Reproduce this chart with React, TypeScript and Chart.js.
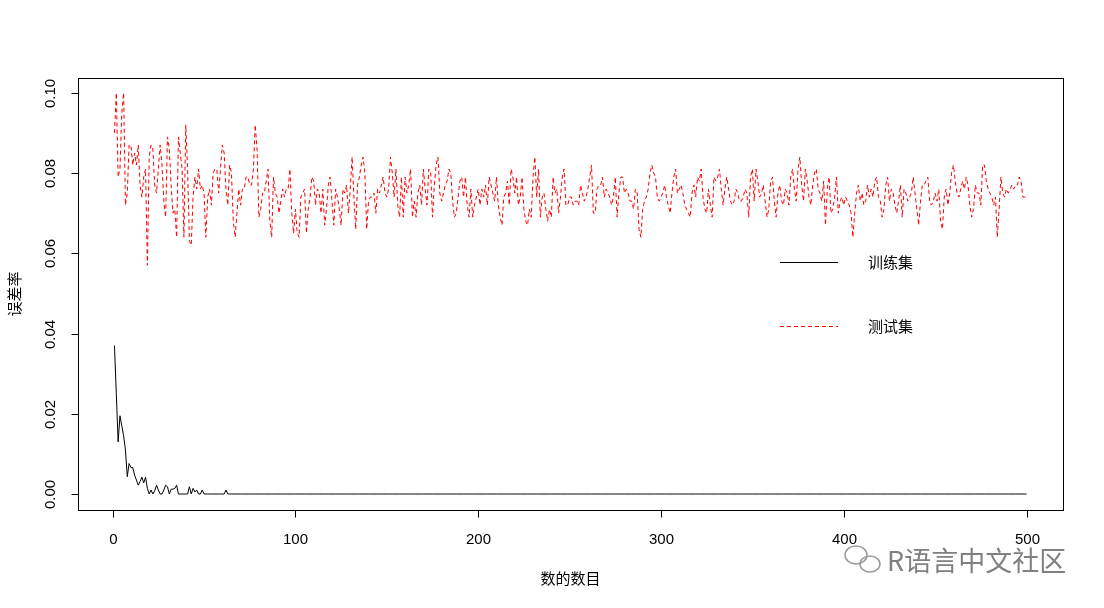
import React, { useEffect, useRef } from "react";
import { Chart, registerables } from "chart.js";
Chart.register(...registerables);

const treeTicks = [0, 100, 200, 300, 400, 500];
const errorTicks = [0, 0.02, 0.04, 0.06, 0.08, 0.1];
const errorTickLabels = ["0.00", "0.02", "0.04", "0.06", "0.08", "0.10"];
const seriesNames = ["训练集", "测试集"];
const xTitle = "数的数目";
const yTitle = "误差率";
const watermark = "R语言中文社区";

const trainError = [
  0.037, 0.025, 0.013, 0.0195, 0.017, 0.0145, 0.011, 0.0043, 0.0076, 0.0066,
  0.0066, 0.0047, 0.0035, 0.0022, 0.0031, 0.0042, 0.0028, 0.0042, 0.0014, 0,
  0.001, 0, 0.0008, 0.0022, 0.001, 0, 0, 0.001, 0.0022, 0.0018,
  0, 0.0012, 0.0012, 0.0014, 0.0022, 0, 0, 0, 0, 0,
  0, 0.0018, 0, 0.0014, 0.0005, 0.001, 0, 0, 0.001, 0,
  0, 0, 0, 0, 0, 0, 0, 0, 0, 0, 0, 0.001, 0, 0, 0, 0, 0, 0, 0, 0,
  0, 0, 0, 0, 0, 0, 0, 0, 0, 0, 0, 0, 0, 0, 0, 0, 0, 0, 0, 0, 0, 0, 0, 0, 0, 0, 0, 0, 0, 0,
  0, 0, 0, 0, 0, 0, 0, 0, 0, 0, 0, 0, 0, 0, 0, 0, 0, 0, 0, 0, 0, 0, 0, 0, 0, 0, 0, 0, 0, 0,
  0, 0, 0, 0, 0, 0, 0, 0, 0, 0, 0, 0, 0, 0, 0, 0, 0, 0, 0, 0, 0, 0, 0, 0, 0, 0, 0, 0, 0, 0,
  0, 0, 0, 0, 0, 0, 0, 0, 0, 0, 0, 0, 0, 0, 0, 0, 0, 0, 0, 0, 0, 0, 0, 0, 0, 0, 0, 0, 0, 0,
  0, 0, 0, 0, 0, 0, 0, 0, 0, 0, 0, 0, 0, 0, 0, 0, 0, 0, 0, 0, 0, 0, 0, 0, 0, 0, 0, 0, 0, 0,
  0, 0, 0, 0, 0, 0, 0, 0, 0, 0, 0, 0, 0, 0, 0, 0, 0, 0, 0, 0, 0, 0, 0, 0, 0, 0, 0, 0, 0, 0,
  0, 0, 0, 0, 0, 0, 0, 0, 0, 0, 0, 0, 0, 0, 0, 0, 0, 0, 0, 0, 0, 0, 0, 0, 0, 0, 0, 0, 0, 0,
  0, 0, 0, 0, 0, 0, 0, 0, 0, 0, 0, 0, 0, 0, 0, 0, 0, 0, 0, 0, 0, 0, 0, 0, 0, 0, 0, 0, 0, 0,
  0, 0, 0, 0, 0, 0, 0, 0, 0, 0, 0, 0, 0, 0, 0, 0, 0, 0, 0, 0, 0, 0, 0, 0, 0, 0, 0, 0, 0, 0,
  0, 0, 0, 0, 0, 0, 0, 0, 0, 0, 0, 0, 0, 0, 0, 0, 0, 0, 0, 0, 0, 0, 0, 0, 0, 0, 0, 0, 0, 0,
  0, 0, 0, 0, 0, 0, 0, 0, 0, 0, 0, 0, 0, 0, 0, 0, 0, 0, 0, 0, 0, 0, 0, 0, 0, 0, 0, 0, 0, 0,
  0, 0, 0, 0, 0, 0, 0, 0, 0, 0, 0, 0, 0, 0, 0, 0, 0, 0, 0, 0, 0, 0, 0, 0, 0, 0, 0, 0, 0, 0,
  0, 0, 0, 0, 0, 0, 0, 0, 0, 0, 0, 0, 0, 0, 0, 0, 0, 0, 0, 0, 0, 0, 0, 0, 0, 0, 0, 0, 0, 0,
  0, 0, 0, 0, 0, 0, 0, 0, 0, 0, 0, 0, 0, 0, 0, 0, 0, 0, 0, 0, 0, 0, 0, 0, 0, 0, 0, 0, 0, 0,
  0, 0, 0, 0, 0, 0, 0, 0, 0, 0,
];

const testError = [
  0.090, 0.100, 0.079, 0.081, 0.095, 0.100, 0.072, 0.075, 0.087, 0.087, 0.082, 0.085, 0.082, 0.087, 0.077, 0.074, 0.079, 0.081, 0.057, 0.084, 0.087, 0.086, 0.077, 0.075, 0.081,
  0.087, 0.082, 0.073, 0.069, 0.089, 0.086, 0.077, 0.070, 0.071, 0.064, 0.089, 0.085, 0.081, 0.064, 0.092, 0.081, 0.063, 0.062, 0.074, 0.079, 0.076, 0.081, 0.076, 0.077, 0.075,
  0.064, 0.074, 0.076, 0.072, 0.080, 0.081, 0.081, 0.075, 0.081, 0.087, 0.085, 0.076, 0.072, 0.082, 0.080, 0.068, 0.064, 0.070, 0.076, 0.072, 0.076, 0.076, 0.079, 0.079, 0.077,
  0.077, 0.081, 0.092, 0.086, 0.069, 0.071, 0.075, 0.075, 0.078, 0.081, 0.068, 0.064, 0.079, 0.075, 0.074, 0.070, 0.073, 0.076, 0.074, 0.076, 0.076, 0.081, 0.070, 0.065, 0.071,
  0.065, 0.064, 0.074, 0.075, 0.076, 0.065, 0.071, 0.074, 0.079, 0.078, 0.072, 0.076, 0.075, 0.070, 0.076, 0.067, 0.071, 0.077, 0.079, 0.073, 0.067, 0.076, 0.074, 0.071, 0.067,
  0.076, 0.075, 0.077, 0.070, 0.076, 0.084, 0.074, 0.066, 0.077, 0.079, 0.082, 0.084, 0.080, 0.066, 0.073, 0.074, 0.074, 0.075, 0.070, 0.076, 0.075, 0.077, 0.079, 0.075, 0.074,
  0.076, 0.084, 0.080, 0.074, 0.081, 0.072, 0.069, 0.079, 0.069, 0.079, 0.075, 0.077, 0.081, 0.069, 0.073, 0.069, 0.075, 0.077, 0.072, 0.081, 0.076, 0.072, 0.081, 0.080, 0.069,
  0.077, 0.082, 0.084, 0.075, 0.073, 0.075, 0.077, 0.078, 0.081, 0.080, 0.073, 0.069, 0.070, 0.074, 0.078, 0.079, 0.074, 0.079, 0.072, 0.069, 0.076, 0.069, 0.072, 0.074, 0.076,
  0.072, 0.076, 0.074, 0.077, 0.072, 0.079, 0.077, 0.075, 0.073, 0.079, 0.072, 0.069, 0.067, 0.074, 0.075, 0.078, 0.072, 0.081, 0.079, 0.075, 0.079, 0.072, 0.074, 0.079, 0.071,
  0.068, 0.067, 0.071, 0.069, 0.079, 0.084, 0.074, 0.081, 0.069, 0.074, 0.075, 0.071, 0.068, 0.071, 0.069, 0.079, 0.075, 0.076, 0.070, 0.074, 0.079, 0.081, 0.072, 0.072, 0.074,
  0.074, 0.072, 0.073, 0.073, 0.072, 0.077, 0.075, 0.073, 0.074, 0.076, 0.079, 0.082, 0.070, 0.070, 0.076, 0.077, 0.077, 0.079, 0.074, 0.076, 0.075, 0.074, 0.072, 0.074, 0.079,
  0.069, 0.075, 0.079, 0.079, 0.075, 0.076, 0.075, 0.073, 0.073, 0.071, 0.076, 0.075, 0.066, 0.064, 0.071, 0.073, 0.074, 0.076, 0.080, 0.082, 0.080, 0.079, 0.074, 0.073, 0.074,
  0.075, 0.077, 0.074, 0.072, 0.070, 0.075, 0.079, 0.081, 0.075, 0.076, 0.077, 0.075, 0.072, 0.071, 0.070, 0.069, 0.075, 0.077, 0.074, 0.079, 0.078, 0.081, 0.074, 0.071, 0.070,
  0.076, 0.072, 0.069, 0.079, 0.078, 0.079, 0.081, 0.076, 0.072, 0.076, 0.079, 0.076, 0.073, 0.072, 0.073, 0.076, 0.075, 0.073, 0.073, 0.074, 0.076, 0.075, 0.069, 0.079, 0.081,
  0.073, 0.081, 0.078, 0.074, 0.075, 0.077, 0.073, 0.069, 0.071, 0.078, 0.079, 0.073, 0.069, 0.075, 0.077, 0.073, 0.072, 0.076, 0.075, 0.072, 0.079, 0.081, 0.076, 0.073, 0.081,
  0.084, 0.077, 0.073, 0.081, 0.078, 0.074, 0.072, 0.077, 0.080, 0.081, 0.076, 0.075, 0.073, 0.078, 0.067, 0.076, 0.079, 0.070, 0.071, 0.074, 0.079, 0.070, 0.073, 0.074, 0.072,
  0.074, 0.073, 0.072, 0.070, 0.064, 0.070, 0.075, 0.077, 0.073, 0.075, 0.072, 0.073, 0.077, 0.074, 0.076, 0.074, 0.078, 0.079, 0.074, 0.073, 0.069, 0.071, 0.077, 0.079, 0.073,
  0.076, 0.075, 0.072, 0.070, 0.073, 0.077, 0.069, 0.076, 0.075, 0.073, 0.074, 0.075, 0.079, 0.075, 0.071, 0.067, 0.073, 0.077, 0.077, 0.078, 0.079, 0.073, 0.072, 0.073, 0.075,
  0.073, 0.076, 0.068, 0.066, 0.074, 0.076, 0.072, 0.075, 0.080, 0.082, 0.078, 0.075, 0.074, 0.076, 0.078, 0.076, 0.079, 0.077, 0.072, 0.069, 0.071, 0.077, 0.075, 0.075, 0.072,
  0.082, 0.082, 0.078, 0.076, 0.075, 0.074, 0.072, 0.074, 0.064, 0.071, 0.079, 0.075, 0.074, 0.076, 0.075, 0.076, 0.077, 0.076, 0.077, 0.077, 0.079, 0.078, 0.074, 0.074, 0.074,
];

const LATIN = '"Liberation Sans", Arial, "Noto Sans CJK SC", sans-serif';
const CJK = '"Noto Sans CJK SC", "Liberation Sans", sans-serif';

const rStylePlugin = {
  id: "rStyle",
  beforeDraw(chart: any) {
    const c = chart.ctx;
    c.save();
    c.fillStyle = "#ffffff";
    c.fillRect(0, 0, chart.width, chart.height);
    c.restore();
  },
  afterDraw(chart: any) {
    const c = chart.ctx as CanvasRenderingContext2D;
    const a = chart.chartArea;
    const xs = chart.scales.x;
    const ys = chart.scales.y;
    c.save();
    c.strokeStyle = "#000";
    c.lineWidth = 1;
    c.setLineDash([]);
    c.strokeRect(Math.round(a.left) + 0.5, Math.round(a.top) + 0.5, Math.round(a.right - a.left), Math.round(a.bottom - a.top));
    c.fillStyle = "#000";
    c.font = "15px " + LATIN;
    c.textAlign = "center";
    c.textBaseline = "middle";
    const bottom = Math.round(a.bottom) + 0.5;
    treeTicks.forEach((v) => {
      const px = Math.round(xs.getPixelForValue(v)) + 0.5;
      c.beginPath();
      c.moveTo(px, bottom);
      c.lineTo(px, bottom + 7);
      c.stroke();
      c.fillText(String(v), px, a.bottom + 30);
    });
    const left = Math.round(a.left) + 0.5;
    errorTicks.forEach((v, i) => {
      const py = Math.round(ys.getPixelForValue(v)) + 0.5;
      c.beginPath();
      c.moveTo(left, py);
      c.lineTo(left - 7, py);
      c.stroke();
      c.save();
      c.translate(a.left - 27, py);
      c.rotate(-Math.PI / 2);
      c.fillText(errorTickLabels[i], 0, 0);
      c.restore();
    });
    c.font = "15px " + CJK;
    c.fillText(xTitle, (a.left + a.right) / 2, a.bottom + 68);
    c.save();
    c.translate(14, (a.top + a.bottom) / 2);
    c.rotate(-Math.PI / 2);
    c.fillText(yTitle, 0, 0);
    c.restore();
    const ds = chart.data.datasets;
    const legendY = [262, 326];
    ds.forEach((d: any, i: number) => {
      const y = legendY[i] + 0.5;
      c.strokeStyle = d.borderColor;
      c.setLineDash(d.borderDash || []);
      c.beginPath();
      c.moveTo(780, y);
      c.lineTo(838, y);
      c.stroke();
      c.setLineDash([]);
      c.fillStyle = "#000";
      c.textAlign = "left";
      c.fillText(d.label, 868, legendY[i]);
    });
    c.strokeStyle = "#9a9a9a";
    c.fillStyle = "#808080";
    c.lineWidth = 1.5;
    c.beginPath();
    c.ellipse(856, 555, 11, 9, 0, 0, Math.PI * 2);
    c.stroke();
    c.beginPath();
    c.ellipse(870, 564, 10, 8, 0, 0, Math.PI * 2);
    c.stroke();
    c.font = "27px " + CJK;
    c.textAlign = "left";
    c.fillText(watermark, 887, 561);
    c.restore();
  },
};

export default function App() {
  const ref = useRef<HTMLCanvasElement>(null);
  useEffect(() => {
    document.body.style.margin = "0";
    const canvas = ref.current;
    if (!canvas) return;
    const chart = new Chart(canvas, {
      type: "line",
      data: {
        datasets: [
          {
            label: seriesNames[0],
            data: trainError.map((v, i) => ({ x: i + 1, y: v })),
            borderColor: "#000000",
            borderWidth: 1,
            pointRadius: 0,
            tension: 0,
            fill: false,
          },
          {
            label: seriesNames[1],
            data: testError.map((v, i) => ({ x: i + 1, y: v })),
            borderColor: "#ff0000",
            borderWidth: 1,
            borderDash: [4, 3],
            pointRadius: 0,
            tension: 0,
            fill: false,
          },
        ],
      },
      options: {
        animation: false,
        responsive: false,
        events: [],
        layout: { padding: { left: 78, right: 41, top: 78, bottom: 98 } },
        plugins: { legend: { display: false }, tooltip: { enabled: false } },
        scales: {
          x: { type: "linear", min: -18.96, max: 519.96, display: false },
          y: { type: "linear", min: -0.003988, max: 0.103688, display: false },
        },
      },
      plugins: [rStylePlugin],
    } as any);
    return () => chart.destroy();
  }, []);
  return <canvas ref={ref} width={1104} height={608} style={{ display: "block" }} />;
}
